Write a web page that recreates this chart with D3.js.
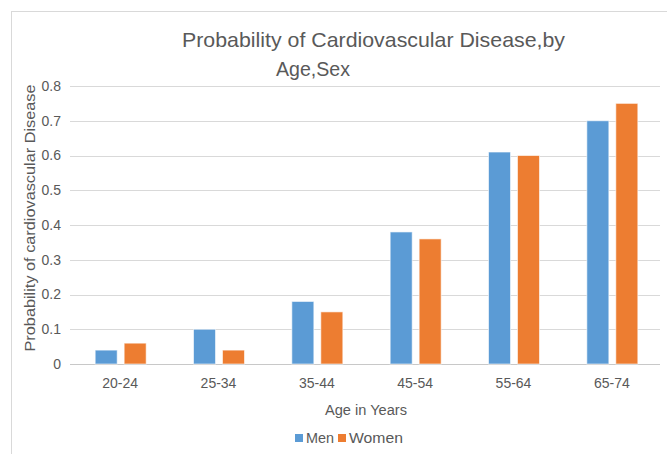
<!DOCTYPE html>
<html lang="en">
<head>
    <meta charset="UTF-8">
    <title>Probability of Cardiovascular Disease</title>
    <script src="https://d3js.org/d3.v7.min.js"></script>
    <style>
        body { margin: 0; background: #fff; }
        text { font-family: "Liberation Sans", Arial, sans-serif; fill: #595959; }
    </style>
</head>
<body>
    <script>
        const width = 667;
        const height = 454;

        const ageGroups = ["20-24", "25-34", "35-44", "45-54", "55-64", "65-74"];
        const seriesNames = ["Men", "Women"];
        const men = [0.04, 0.10, 0.18, 0.38, 0.61, 0.70];
        const women = [0.06, 0.04, 0.15, 0.36, 0.60, 0.75];
        const yTicks = [0, 0.1, 0.2, 0.3, 0.4, 0.5, 0.6, 0.7, 0.8];

        const colors = { Men: "#5b9bd5", Women: "#ed7d31" };

        const margin = { top: 86, right: 7, bottom: 90, left: 70 };

        const svg = d3.select("body").append("svg")
            .attr("width", width)
            .attr("height", height);

        // chart area border
        svg.append("rect")
            .attr("x", 11.5).attr("y", 11.5)
            .attr("width", 720).attr("height", 480)
            .attr("fill", "none")
            .attr("stroke", "#d9d9d9");

        const x = d3.scaleBand()
            .domain(ageGroups)
            .range([margin.left, width - margin.right]);

        const y = d3.scaleLinear()
            .domain([0, 0.8])
            .range([364, margin.top]);

        const xInner = d3.scaleBand()
            .domain(seriesNames)
            .range([0, 51])
            .paddingInner(0.24);

        // gridlines
        svg.append("g")
            .selectAll("line")
            .data(yTicks)
            .join("line")
            .attr("x1", margin.left)
            .attr("x2", width - margin.right)
            .attr("y1", d => Math.round(y(d)) + 0.5)
            .attr("y2", d => Math.round(y(d)) + 0.5)
            .attr("stroke", d => d === 0 ? "#c8c8c8" : "#d9d9d9");

        // y tick labels
        svg.append("g")
            .selectAll("text")
            .data(yTicks)
            .join("text")
            .attr("x", 61)
            .attr("y", d => y(d))
            .attr("dy", "0.35em")
            .attr("text-anchor", "end")
            .style("font-size", "14px")
            .text(d => d === 0 ? "0" : d3.format(".1f")(d));

        // bars
        const rows = ageGroups.map((g, i) => ({ group: g, Men: men[i], Women: women[i] }));

        svg.append("g")
            .selectAll("g")
            .data(rows)
            .join("g")
            .attr("transform", d => `translate(${x(d.group) + x.bandwidth() / 2 - 24},0)`)
            .selectAll("rect")
            .data(d => seriesNames.map(s => ({ key: s, value: d[s] })))
            .join("rect")
            .attr("x", d => xInner(d.key))
            .attr("y", d => y(d.value))
            .attr("width", xInner.bandwidth())
            .attr("height", d => y(0) - y(d.value))
            .attr("fill", d => colors[d.key])
            .attr("stroke", "#fff")
            .attr("stroke-opacity", 0.6)
            .attr("stroke-width", 1);

        // x tick labels
        svg.append("g")
            .selectAll("text")
            .data(ageGroups)
            .join("text")
            .attr("x", d => x(d) + x.bandwidth() / 2 + 1)
            .attr("y", 388)
            .attr("text-anchor", "middle")
            .style("font-size", "14px")
            .text(d => d);

        // axis titles
        svg.append("text")
            .attr("x", 366)
            .attr("y", 415)
            .attr("text-anchor", "middle")
            .style("font-size", "14px")
            .attr("textLength", 82)
            .attr("lengthAdjust", "spacingAndGlyphs")
            .text("Age in Years");

        svg.append("text")
            .attr("transform", "translate(35,218) rotate(-90)")
            .attr("text-anchor", "middle")
            .style("font-size", "14px")
            .attr("textLength", 267)
            .attr("lengthAdjust", "spacingAndGlyphs")
            .text("Probability of cardiovascular Disease");

        // title
        svg.append("text")
            .attr("x", 373.5)
            .attr("y", 47)
            .attr("text-anchor", "middle")
            .style("font-size", "21px")
            .attr("textLength", 383)
            .attr("lengthAdjust", "spacingAndGlyphs")
            .text("Probability of Cardiovascular Disease,by");

        svg.append("text")
            .attr("x", 313)
            .attr("y", 76)
            .attr("text-anchor", "middle")
            .style("font-size", "21px")
            .attr("textLength", 74)
            .attr("lengthAdjust", "spacingAndGlyphs")
            .text("Age,Sex");

        // legend
        const legend = svg.append("g")
            .attr("transform", "translate(295,434)");

        const legendX = [0, 43];
        const legendW = [28, 54];
        seriesNames.forEach((s, i) => {
            legend.append("rect")
                .attr("x", legendX[i])
                .attr("y", 0)
                .attr("width", 8)
                .attr("height", 8)
                .attr("fill", colors[s]);
            legend.append("text")
                .attr("x", legendX[i] + 11)
                .attr("y", 8.5)
                .style("font-size", "14px")
                .attr("textLength", legendW[i])
                .attr("lengthAdjust", "spacingAndGlyphs")
                .text(s);
        });
    </script>
</body>
</html>
